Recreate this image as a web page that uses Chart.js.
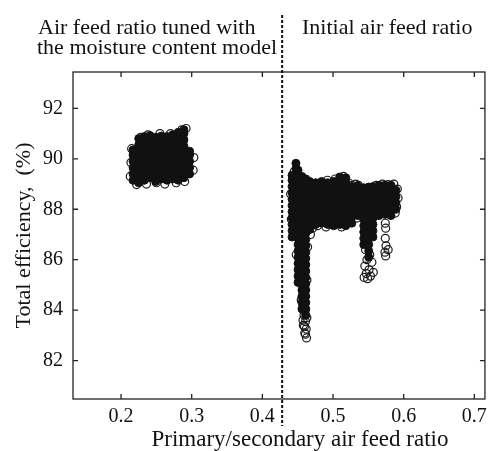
<!DOCTYPE html>
<html lang="en">
<head>
    <meta charset="UTF-8">
    <title>Total efficiency vs primary/secondary air feed ratio</title>
    <style>
        body {
            margin: 0;
            background: #fff;
        }
        canvas {
            display: block;
        }
    </style>
    <script src="https://cdn.jsdelivr.net/npm/chart.js"></script>
</head>
<body>
    <canvas id="chartCanvas" width="493" height="451"></canvas>

    <script>
        // axis ticks
        const xTicks = [0.2, 0.3, 0.4, 0.5, 0.6, 0.7];
        const yTicks = [82, 84, 86, 88, 90, 92];
        const dividerX = 0.428;

        // tuned air feed ratio: dense core, as columns [x, [y...]]
        const tunedCore = [
            [0.217, [89.15, 89.4, 89.65, 89.9, 90.15, 90.35]],
            [0.225, [89.05, 89.3, 89.55, 89.8, 90.05, 90.3, 90.55, 90.8]],
            [0.233, [89.15, 89.4, 89.65, 89.9, 90.15, 90.4, 90.65, 90.88]],
            [0.241, [89.25, 89.5, 89.75, 90.0, 90.25, 90.5, 90.75, 90.92]],
            [0.249, [89.1, 89.35, 89.6, 89.85, 90.1, 90.35, 90.6, 90.85]],
            [0.257, [89.2, 89.45, 89.7, 89.95, 90.2, 90.45, 90.7, 90.9]],
            [0.265, [89.15, 89.4, 89.65, 89.9, 90.15, 90.4, 90.65, 90.88]],
            [0.273, [89.2, 89.45, 89.7, 89.95, 90.2, 90.45, 90.7, 90.95]],
            [0.281, [89.15, 89.4, 89.65, 89.9, 90.15, 90.4, 90.65, 90.9, 91.05]],
            [0.289, [89.25, 89.5, 89.75, 90.0, 90.25, 90.5, 90.75, 91.0, 91.15]],
            [0.297, [89.4, 89.65, 89.9, 90.15, 90.3]]
        ];
        // tuned air feed ratio: loose points round the edge
        const tunedEdge = [
            [0.213, 89.3], [0.214, 89.85], [0.215, 90.4], [0.222, 88.98], [0.236, 89.0],
            [0.244, 89.3], [0.25, 89.05], [0.248, 89.25], [0.262, 89.0], [0.278, 89.05],
            [0.29, 89.1], [0.302, 89.55], [0.303, 90.05], [0.292, 91.2], [0.286, 91.15],
            [0.238, 90.95], [0.255, 91.0], [0.27, 91.0], [0.228, 90.85]
        ];

        // initial air feed ratio: dense core, as columns [x, [y...]]
        const initialCore = [
            [0.442, [86.9, 87.15, 87.4, 87.65, 87.9, 88.15, 88.4, 88.65, 88.9, 89.15, 89.35]],
            [0.4475, [89.6, 89.82]],
            [0.4505, [85.1, 85.35, 85.6, 85.85, 86.1, 86.35, 86.6, 86.85, 87.1, 87.35, 87.6, 87.85, 88.1, 88.35, 88.6, 88.85, 89.1, 89.35, 89.55]],
            [0.456, [84.05, 84.3, 84.55, 84.8, 85.05, 85.3, 85.55, 85.8, 86.05, 86.3, 86.55, 86.8, 87.05, 87.3, 87.55, 87.8, 88.05, 88.3, 88.55, 88.8, 89.05, 89.3]],
            [0.4615, [83.8, 84.05, 84.3, 84.55, 84.8, 85.05, 85.3, 85.55, 85.8, 86.05, 86.3, 86.55, 86.8, 87.05, 87.3, 87.55, 87.8, 88.05, 88.3, 88.55, 88.8, 89.05, 89.2]],
            [0.467, [87.2, 87.45, 87.7, 87.95, 88.2, 88.45, 88.7, 88.95, 89.1]],
            [0.4755, [87.4, 87.65, 87.9, 88.15, 88.4, 88.65, 88.9, 89.05]],
            [0.484, [87.45, 87.7, 87.95, 88.2, 88.45, 88.7, 88.95, 89.1]],
            [0.4925, [87.4, 87.65, 87.9, 88.15, 88.4, 88.65, 88.9, 89.05]],
            [0.501, [87.35, 87.6, 87.85, 88.1, 88.35, 88.6, 88.85, 89.1]],
            [0.5095, [87.4, 87.65, 87.9, 88.15, 88.4, 88.65, 88.9, 89.15, 89.28]],
            [0.518, [87.35, 87.6, 87.85, 88.1, 88.35, 88.6, 88.85, 89.1, 89.25]],
            [0.5265, [87.45, 87.7, 87.95, 88.2, 88.45, 88.7, 88.9]],
            [0.535, [87.75, 88.0, 88.25, 88.5, 88.75, 88.92]],
            [0.5435, [86.6, 86.85, 87.1, 87.35, 87.6, 87.85, 88.1, 88.35, 88.6, 88.85]],
            [0.5505, [86.1, 86.35, 86.6, 86.85, 87.1, 87.35, 87.6, 87.85, 88.1, 88.35, 88.6, 88.88]],
            [0.5565, [86.9, 87.15, 87.4, 87.65, 87.9, 88.15, 88.4, 88.65, 88.9]],
            [0.565, [87.75, 88.0, 88.25, 88.5, 88.75, 88.95]],
            [0.5735, [87.8, 88.05, 88.3, 88.55, 88.8, 88.95]],
            [0.582, [87.75, 88.0, 88.25, 88.5, 88.75, 88.95]],
            [0.589, [88.0, 88.25, 88.5, 88.75]]
        ];
        // initial air feed ratio: loose points round the edge
        const initialEdge = [
            [0.459, 83.8], [0.461, 83.55], [0.458, 83.4], [0.462, 83.25], [0.46, 83.1], [0.4625, 82.9],
            [0.457, 84.1], [0.455, 84.4], [0.46, 83.95], [0.4575, 83.6], [0.463, 83.7], [0.4595, 83.35], [0.461, 83.05],
            [0.464, 86.5], [0.463, 85.2], [0.452, 85.3], [0.445, 89.5], [0.44, 88.6], [0.441, 87.6], [0.448, 86.2],
            [0.468, 87.0], [0.471, 87.25], [0.478, 87.35], [0.49, 87.3], [0.498, 87.4], [0.512, 87.3],
            [0.525, 87.5], [0.534, 87.65], [0.533, 87.85], [0.532, 89.0], [0.536, 88.95],
            [0.522, 89.05], [0.527, 88.95], [0.561, 88.95], [0.57, 89.0], [0.578, 88.98], [0.586, 89.0],
            [0.591, 88.8], [0.592, 88.45], [0.59, 88.1], [0.588, 87.85], [0.492, 89.15], [0.503, 89.2], [0.515, 89.3],
            [0.546, 86.4], [0.552, 86.2], [0.548, 86.0], [0.555, 85.9], [0.545, 85.75], [0.551, 85.6],
            [0.547, 85.45], [0.553, 85.35], [0.544, 85.3], [0.549, 85.25], [0.557, 85.5],
            [0.574, 87.45], [0.5745, 87.25], [0.574, 86.85], [0.575, 86.55], [0.5735, 86.3], [0.5745, 86.15], [0.578, 86.4]
        ];

        const serif = "'Liberation Serif', 'Times New Roman', serif";
        const ink = '#111';

        const colsToPoints = cols => cols.flatMap(([x, ys]) => ys.map(y => ({ x: x, y: y })));
        const pairsToPoints = pairs => pairs.map(([x, y]) => ({ x: x, y: y }));

        const coreStyle = { pointRadius: 4, pointBackgroundColor: ink, pointBorderColor: ink, pointBorderWidth: 1 };
        const ringStyle = { pointRadius: 4, pointBackgroundColor: 'rgba(0,0,0,0)', pointBorderColor: '#1c1c1c', pointBorderWidth: 1.2 };

        // frame with inward ticks, the dashed divider and the text labels
        const framePlugin = {
            id: 'frame',
            afterDraw(chart) {
                const { ctx, chartArea: a, scales } = chart;
                const sx = scales.x, sy = scales.y;
                ctx.save();
                ctx.strokeStyle = '#222';
                ctx.lineWidth = 1.3;
                ctx.strokeRect(a.left, a.top, a.right - a.left, a.bottom - a.top);
                ctx.beginPath();
                xTicks.forEach(v => {
                    const px = sx.getPixelForValue(v);
                    ctx.moveTo(px, a.bottom); ctx.lineTo(px, a.bottom - 5);
                    ctx.moveTo(px, a.top); ctx.lineTo(px, a.top + 5);
                });
                yTicks.forEach(v => {
                    const py = sy.getPixelForValue(v);
                    ctx.moveTo(a.left, py); ctx.lineTo(a.left + 5, py);
                    ctx.moveTo(a.right, py); ctx.lineTo(a.right - 5, py);
                });
                ctx.stroke();

                const dx = sx.getPixelForValue(dividerX);
                ctx.setLineDash([3, 2]);
                ctx.lineWidth = 2;
                ctx.strokeStyle = ink;
                ctx.beginPath();
                ctx.moveTo(dx, 15);
                ctx.lineTo(dx, 426);
                ctx.stroke();
                ctx.setLineDash([]);

                ctx.fillStyle = ink;
                ctx.font = '22px ' + serif;
                ctx.textAlign = 'left';
                ctx.textBaseline = 'alphabetic';
                ctx.fillText('Air feed ratio tuned with', 38, 34);
                ctx.fillText('the moisture content model', 37, 54);
                ctx.fillText('Initial air feed ratio', 302, 34);

                ctx.font = '23px ' + serif;
                ctx.textAlign = 'center';
                ctx.fillText('Primary/secondary air feed ratio', 300, 446);

                ctx.font = '22px ' + serif;
                ctx.translate(30, (a.top + a.bottom) / 2);
                ctx.rotate(-Math.PI / 2);
                ctx.fillText('Total efficiency,  (%)', 0, 0);
                ctx.restore();
            }
        };

        new Chart(document.getElementById('chartCanvas').getContext('2d'), {
            type: 'scatter',
            data: {
                datasets: [
                    { label: 'tuned', data: colsToPoints(tunedCore), ...coreStyle },
                    { label: 'initial', data: colsToPoints(initialCore), ...coreStyle },
                    { label: 'tuned edge', data: pairsToPoints(tunedEdge), ...ringStyle },
                    { label: 'initial edge', data: pairsToPoints(initialEdge), ...ringStyle }
                ]
            },
            plugins: [framePlugin],
            options: {
                responsive: false,
                animation: false,
                layout: { autoPadding: false, padding: { top: 72, right: 6, left: 0, bottom: 0 } },
                plugins: {
                    legend: { display: false },
                    tooltip: { enabled: false }
                },
                scales: {
                    x: {
                        type: 'linear',
                        min: 0.132,
                        max: 0.715,
                        afterBuildTicks: s => { s.ticks = xTicks.map(v => ({ value: v })); },
                        afterFit: s => { s.height = 52; },
                        grid: { display: false, drawTicks: false },
                        border: { display: false },
                        ticks: {
                            padding: 6,
                            color: ink,
                            font: { family: serif, size: 20 },
                            callback: v => v.toFixed(1)
                        }
                    },
                    y: {
                        type: 'linear',
                        min: 80.48,
                        max: 93.44,
                        afterBuildTicks: s => { s.ticks = yTicks.map(v => ({ value: v })); },
                        afterFit: s => { s.width = 73; },
                        grid: { display: false, drawTicks: false },
                        border: { display: false },
                        ticks: {
                            padding: 10,
                            color: ink,
                            font: { family: serif, size: 20 },
                            callback: v => String(v)
                        }
                    }
                }
            }
        });
    </script>
</body>
</html>
